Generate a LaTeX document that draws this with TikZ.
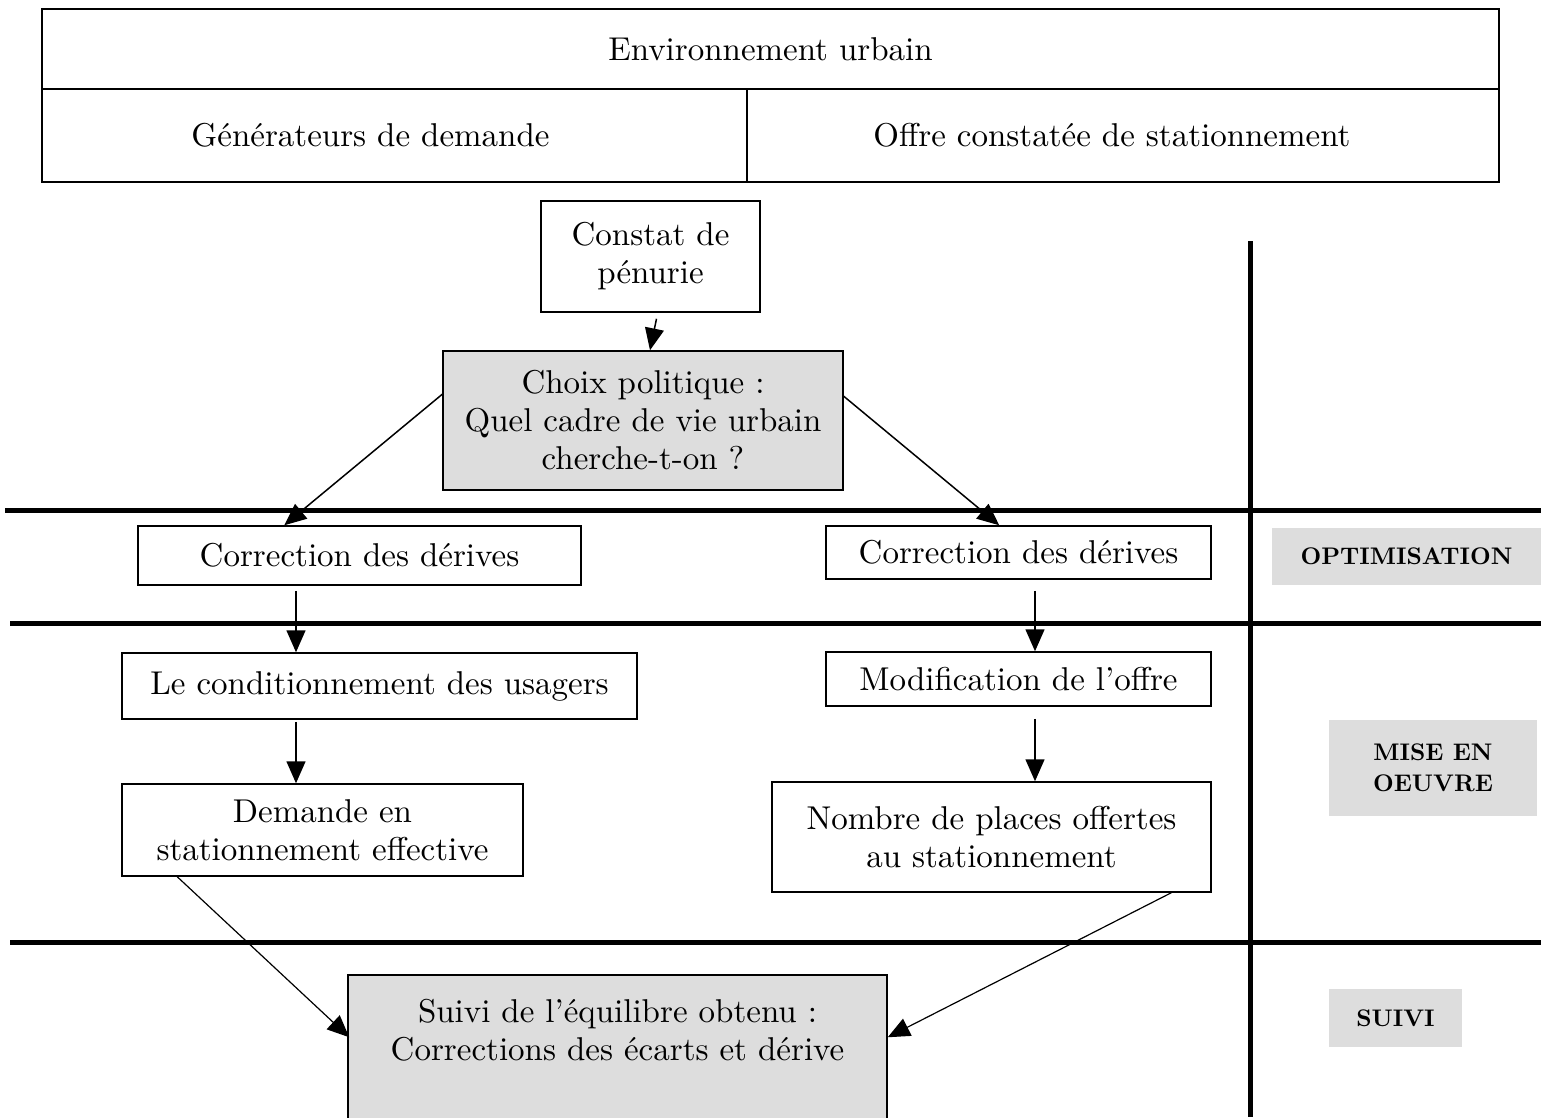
\documentclass[tikz,border=0pt]{standalone}
\usepackage{fontspec}
\setmainfont{lmroman10}[Extension=.otf, UprightFont=*-regular, BoldFont=*-bold, ItalicFont=*-italic]
\usetikzlibrary{arrows.meta,calc}
\definecolor{boxgray}{RGB}{221,221,221}
\tikzset{
  txt/.style={font=\fontsize{33}{38}\selectfont, align=center},
  cell/.style={txt, draw, line width=1.5pt, inner sep=0pt, anchor=center},
  graycell/.style={cell, fill=boxgray},
  tag/.style={fill=boxgray, inner sep=0pt, align=center, font=\bfseries\fontsize{24}{31}\selectfont},
  thick rule/.style={line width=5pt},
  arr/.style={line width=1.5pt, -{Triangle[length=22pt,width=19pt]}},
  diag/.style={line width=1.2pt, -{Triangle[length=22pt,width=19pt]}},
}
\begin{document}
\begin{tikzpicture}[x=1pt,y=-1pt]
\useasboundingbox (0,0) rectangle (1541,1117);
% top table
\node[cell, minimum width=1457, minimum height=80] (env) at (770.5,49) {Environnement urbain};
\node[cell, minimum width=705, minimum height=93] (gen) at (394.5,135.5) {Générateurs de demande\hspace*{48pt}};
\node[cell, minimum width=752, minimum height=93] (offre) at (1123,135.5) {Offre constatée de stationnement\hspace*{22pt}};
% rules
\draw[thick rule] (5,510) -- (1541,510);
\draw[thick rule] (10,623) -- (1541,623);
\draw[thick rule] (10,942) -- (1541,942);
\draw[thick rule] (1250,241) -- (1250,1117);
% boxes
\node[cell, minimum width=219, minimum height=111] (constat) at (650.5,256.5) {Constat de\\pénurie};
\node[graycell, minimum width=400, minimum height=139] (choix) at (643,420.5) {Choix politique :\\Quel cadre de vie urbain\\cherche-t-on ?};
\node[cell, minimum width=443, minimum height=59] (corrL) at (359.5,555.5) {Correction des dérives};
\node[cell, minimum width=385, minimum height=53] (corrR) at (1018.5,552.5) {Correction des dérives};
\node[cell, minimum width=515, minimum height=66] (cond) at (379.5,686) {Le conditionnement des usagers};
\node[cell, minimum width=385, minimum height=54] (modif) at (1018.5,679) {Modification de l’offre};
\node[cell, minimum width=401, minimum height=92] (dem) at (322.5,830) {Demande en\\stationnement effective};
\node[cell, minimum width=439, minimum height=110] (nomb) at (991.5,837) {Nombre de places offertes\\au stationnement};
\node[graycell, minimum width=539, minimum height=147] (suivi) at (617.5,1048.5) {Suivi de l’équilibre obtenu :\\Corrections des écarts et dérive\\ };
% side tags
\node[tag, minimum width=269, minimum height=57] (opt) at (1406.5,556.5) {OPTIMISATION};
\node[tag, minimum width=208, minimum height=96] (mise) at (1433,768) {MISE EN\\OEUVRE};
\node[tag, minimum width=133, minimum height=58] (suivitag) at (1395.5,1018) {SUIVI};
% connectors
\coordinate (xL) at (296,0);
\coordinate (xR) at (1035,0);
\draw[arr] ($(constat.south)+(6,6)$) -- ($(choix.north)+(7,0)$);
\draw[arr] ($(choix.north west)+(0,44)$) -- ($(corrL.north west)+(147,0)$);
\draw[arr] ($(choix.north east)+(0,46)$) -- ($(corrR.north west)+(174,0)$);
\draw[arr] ([yshift=-5pt]corrL.south -| xL) -- (cond.north -| xL);
\draw[arr] ([yshift=-2pt]cond.south -| xL) -- (dem.north -| xL);
\draw[arr] ([yshift=-11pt]corrR.south -| xR) -- (modif.north -| xR);
\draw[arr] ([yshift=-12pt]modif.south -| xR) -- (nomb.north -| xR);
\draw[diag] ($(dem.south west)+(56,0)$) -- ($(suivi.north west)+(2,63)$);
\draw[diag] ($(nomb.south west)+(400,0)$) -- ($(suivi.north east)+(0,63)$);
\end{tikzpicture}
\end{document}
